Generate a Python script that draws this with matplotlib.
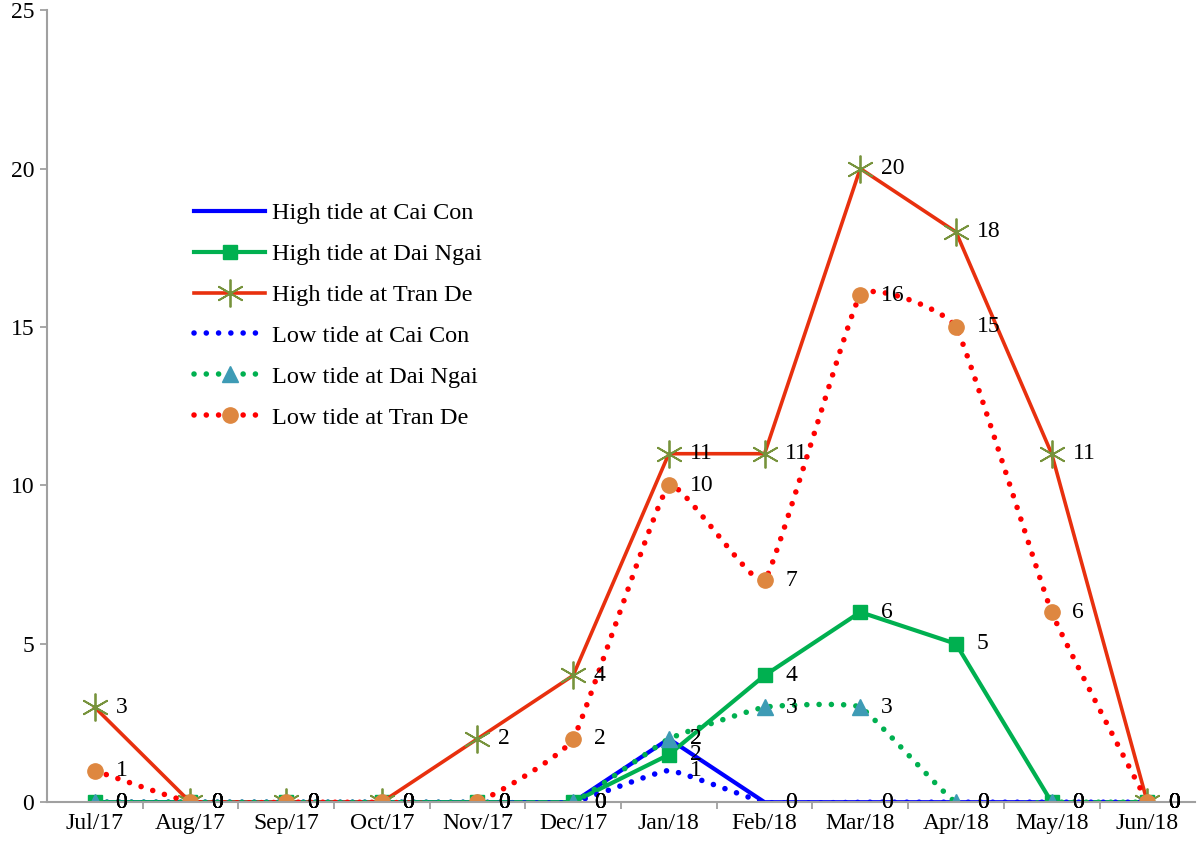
# Tide occurrence per month at three stations
import numpy as np
import matplotlib.pyplot as plt
from matplotlib.lines import Line2D

plt.rcParams['font.family'] = ['Liberation Serif', 'DejaVu Serif']

#data
months = ['Jul/17', 'Aug/17', 'Sep/17', 'Oct/17', 'Nov/17', 'Dec/17',
          'Jan/18', 'Feb/18', 'Mar/18', 'Apr/18', 'May/18', 'Jun/18']
high_cai_con = [0, 0, 0, 0, 0, 0, 2, 0, 0, 0, 0, 0]
high_dai_ngai = [0, 0, 0, 0, 0, 0, 1.5, 4, 6, 5, 0, 0]
high_tran_de = [3, 0, 0, 0, 2, 4, 11, 11, 20, 18, 11, 0]
low_cai_con = [0, 0, 0, 0, 0, 0, 1, 0, 0, 0, 0, 0]
low_dai_ngai = [0, 0, 0, 0, 0, 0, 2, 3, 3, 0, 0, 0]
low_tran_de = [1, 0, 0, 0, 0, 2, 10, 7, 16, 15, 6, 0]

x = np.arange(len(months))


def smooth(xs, ys, k=18, n=30):
    # mild bezier smoothing through the points (spreadsheet style smoothed line)
    xs = np.asarray(xs, float)
    ys = np.asarray(ys, float)
    px = np.concatenate([[xs[0]], xs, [xs[-1]]])
    py = np.concatenate([[ys[0]], ys, [ys[-1]]])
    t = np.linspace(0, 1, n)
    out_x, out_y = [], []
    for i in range(1, len(px) - 2):
        p0x, p0y = px[i], py[i]
        p3x, p3y = px[i + 1], py[i + 1]
        c1x = p0x + (px[i + 1] - px[i - 1]) / k
        c1y = p0y + (py[i + 1] - py[i - 1]) / k
        c2x = p3x - (px[i + 2] - px[i]) / k
        c2y = p3y - (py[i + 2] - py[i]) / k
        bx = (1-t)**3*p0x + 3*(1-t)**2*t*c1x + 3*(1-t)*t**2*c2x + t**3*p3x
        by = (1-t)**3*p0y + 3*(1-t)**2*t*c1y + 3*(1-t)*t**2*c2y + t**3*p3y
        out_x.extend(bx)
        out_y.extend(by)
    return np.array(out_x), np.array(out_y)


fig = plt.figure(figsize=(12, 8.48), dpi=100)
ax = fig.add_axes([0.039, 0.054, 0.957, 0.934])

blue = '#0000FF'
green = '#00B050'
red = '#E8300E'
dot_red = '#FF0000'
star_col = '#77933C'
tri_col = '#3E9BB5'
circ_col = '#DE8740'
dots = (0, (0.01, 2.2))

#high tide lines
ax.plot(x, high_cai_con, color=blue, lw=3)
ax.plot(x, high_dai_ngai, color=green, lw=3, marker='s', ms=10)
ax.plot(x, high_tran_de, color=red, lw=2.6, marker=(6, 2, 0), ms=20,
        mec=star_col, mew=1.3)

#low tide lines (dotted, lightly smoothed)
sx, sy = smooth(x, low_cai_con)
ax.plot(sx, sy, color=blue, lw=4, ls=dots, dash_capstyle='round')
sx, sy = smooth(x, low_dai_ngai)
ax.plot(sx, sy, color=green, lw=4, ls=dots, dash_capstyle='round')
ax.plot(x, low_dai_ngai, ls='none', marker='^', ms=11, color=tri_col)
sx, sy = smooth(x, low_tran_de)
ax.plot(sx, sy, color=dot_red, lw=4, ls=dots, dash_capstyle='round')
ax.plot(x, low_tran_de, ls='none', marker='o', ms=11, color=circ_col)

#data labels
for series in [high_cai_con, high_dai_ngai, high_tran_de,
               low_cai_con, low_dai_ngai, low_tran_de]:
    for xi, v in zip(x, series):
        ax.annotate(f'{v:.0f}', (xi, v), xytext=(15, 0),
                    textcoords='offset points', ha='left', va='center',
                    fontsize=17, annotation_clip=False)

#legend
handles = [
    Line2D([], [], color=blue, lw=3),
    Line2D([], [], color=green, lw=3, marker='s', ms=10),
    Line2D([], [], color=red, lw=2.6, marker=(6, 2, 0), ms=20,
           mec=star_col, mew=1.3),
    Line2D([], [], color=blue, lw=4, ls=dots, dash_capstyle='round'),
    Line2D([], [], color=green, lw=4, ls=dots, dash_capstyle='round',
           marker='^', ms=11, mfc=tri_col, mec=tri_col),
    Line2D([], [], color=dot_red, lw=4, ls=dots, dash_capstyle='round',
           marker='o', ms=11, mfc=circ_col, mec=circ_col),
]
labels = ['High tide at Cai Con', 'High tide at Dai Ngai', 'High tide at Tran De',
          'Low tide at Cai Con', 'Low tide at Dai Ngai', 'Low tide at Tran De']
ax.legend(handles, labels, loc='upper left', bbox_to_anchor=(0.12, 0.77),
          frameon=False, fontsize=17.5, handlelength=2.9, handletextpad=0.3,
          labelspacing=0.78, borderaxespad=0)

#axes
ax.set_xlim(-0.5, 11.5)
ax.set_ylim(0, 25)
ax.set_yticks([0, 5, 10, 15, 20, 25])
ax.set_xticks(x)
ax.set_xticklabels(months)
ax.set_xticks(np.arange(0.5, 11, 1), minor=True)
ax.tick_params(axis='x', which='major', length=0, labelsize=17, pad=8)
ax.tick_params(axis='x', which='minor', length=5, color='#A0A0A0', width=1.3)
ax.tick_params(axis='y', length=5, color='#A0A0A0', width=1.3,
               labelsize=17, pad=4)
for s in ['top', 'right']:
    ax.spines[s].set_visible(False)
for s in ['left', 'bottom']:
    ax.spines[s].set_color('#A0A0A0')
    ax.spines[s].set_linewidth(1.5)

plt.savefig('out.png', dpi=100)
